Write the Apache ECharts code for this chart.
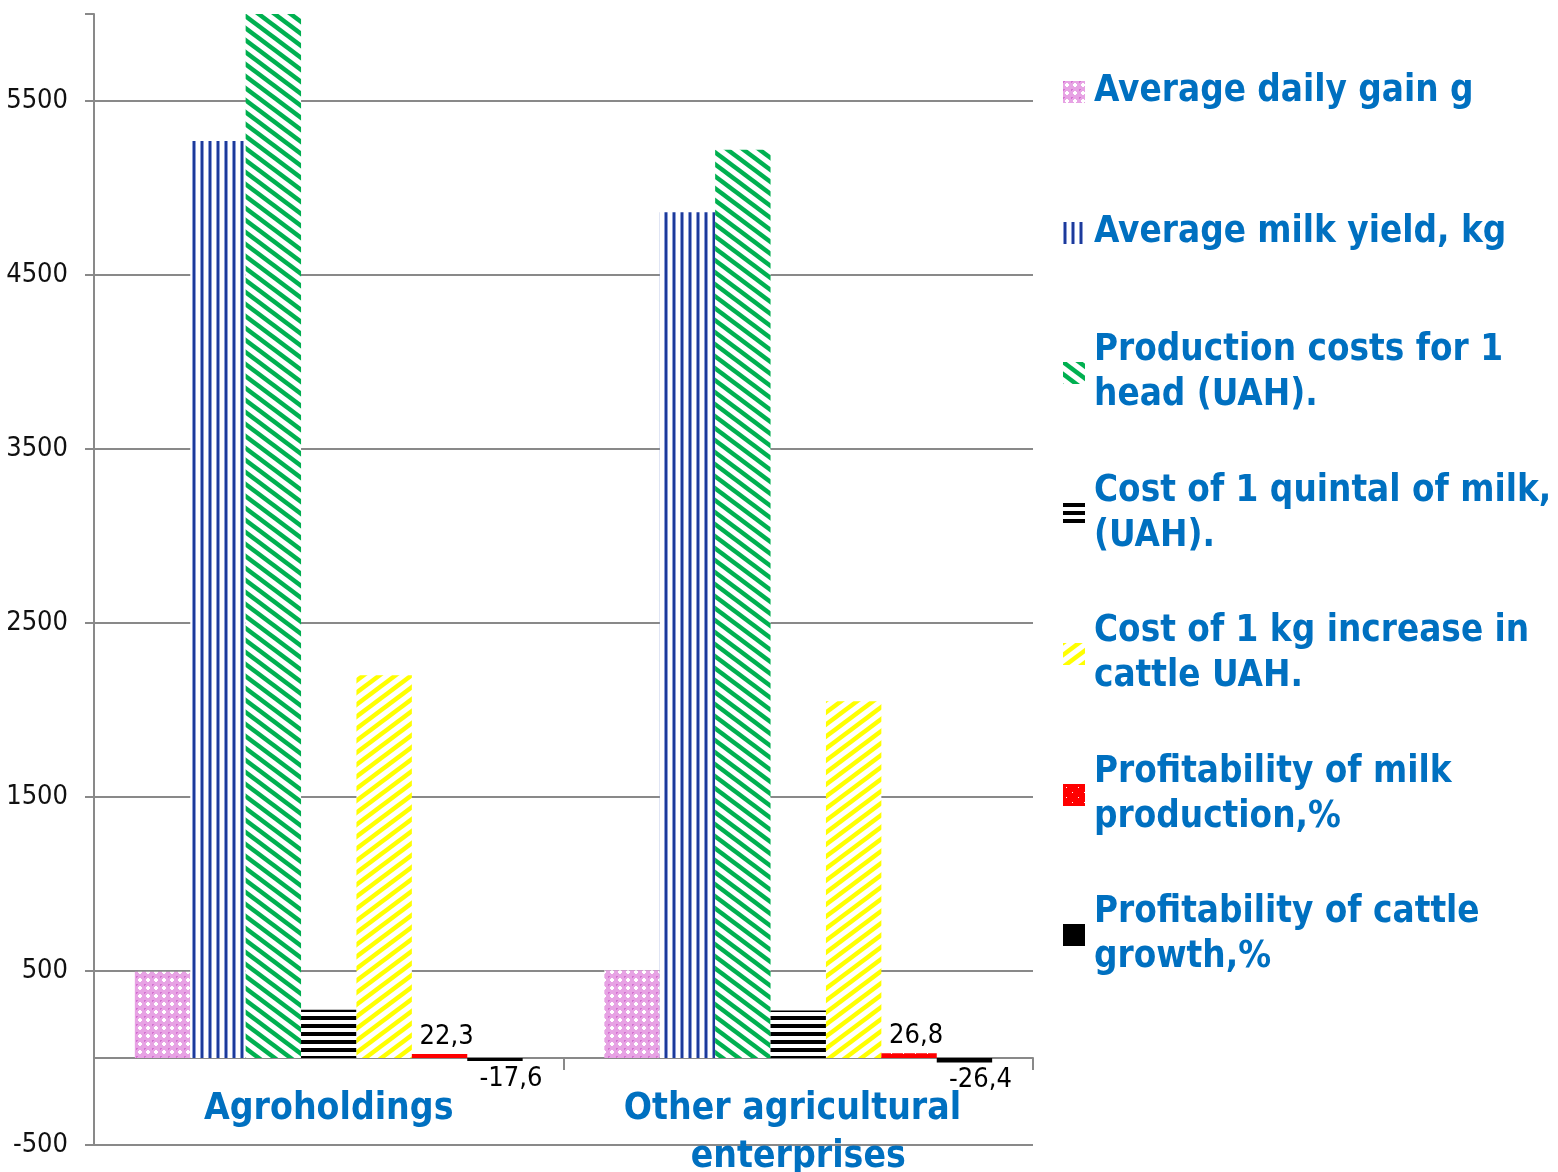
<!DOCTYPE html>
<html>
<head>
<meta charset="utf-8">
<script src="https://cdn.jsdelivr.net/npm/echarts@6/dist/echarts.min.js"></script>
<style>
html,body{margin:0;padding:0;background:#fff;}
#chart{width:1558px;height:1172px;}
</style>
</head>
<body>
<div id="chart"></div>
<script>
// ---- data ----
var categories = ['Agroholdings', 'Other agricultural enterprises'];
var seriesNames = [
  'Average daily gain g',
  'Average milk yield, kg',
  'Production costs for 1 head (UAH).',
  'Cost of 1 quintal of milk, (UAH).',
  'Cost of 1 kg increase in cattle UAH.',
  'Profitability of milk production,%',
  'Profitability of cattle growth,%'
];
var legendLabels = [
  'Average daily gain g',
  'Average milk yield, kg',
  'Production costs for 1\nhead (UAH).',
  'Cost of 1 quintal of milk,\n(UAH).',
  'Cost of 1 kg increase in\ncattle UAH.',
  'Profitability of milk\nproduction,%',
  'Profitability of cattle\ngrowth,%'
];
var dailyGain = [495, 505];
var milkYield = [5270, 4860];
var productionCosts = [6000, 5220];
var costQuintalMilk = [277, 273];
var costKgIncrease = [2200, 2050];
var profitMilk = [22.3, 26.8];
var profitCattle = [-17.6, -26.4];
var yTickLabels = [-500, 500, 1500, 2500, 3500, 4500, 5500];

// ---- patterns ----
function tile(w, h, draw) {
  var c = document.createElement('canvas');
  c.width = w; c.height = h;
  var ctx = c.getContext('2d');
  draw(ctx, w, h);
  return { image: c, repeat: 'repeat' };
}
var pinkPat = tile(8, 8, function (ctx) {
  ctx.fillStyle = '#E7A3E4'; ctx.fillRect(0, 0, 8, 8);
  ctx.fillStyle = '#D571D2'; ctx.fillRect(0, 0, 2, 1); ctx.fillRect(0, 0, 1, 2);
  ctx.fillStyle = '#ffffff'; ctx.fillRect(2, 3, 4, 2); ctx.fillRect(3, 2, 2, 4);
});
var bluePat = tile(8, 4, function (ctx) {
  ctx.fillStyle = '#ffffff'; ctx.fillRect(0, 0, 8, 4);
  ctx.fillStyle = '#8A9DD6'; ctx.fillRect(0, 0, 1, 4); ctx.fillRect(3, 0, 1, 4);
  ctx.fillStyle = '#1D3A9A'; ctx.fillRect(1, 0, 2, 4);
});
function diagTile(color, down) {
  return tile(16, 12, function (ctx, w, h) {
    ctx.fillStyle = '#ffffff'; ctx.fillRect(0, 0, w, h);
    ctx.strokeStyle = color; ctx.lineWidth = 4.5;
    for (var k = -1; k <= 1; k++) {
      ctx.beginPath();
      if (down) { ctx.moveTo(-w + k * w, -h); ctx.lineTo(2 * w + k * w, 2 * h); }
      else { ctx.moveTo(-w + k * w, 2 * h); ctx.lineTo(2 * w + k * w, -h); }
      ctx.stroke();
    }
  });
}
var greenPat = diagTile('#00B050', true);
var yellowPat = diagTile('#FFFF00', false);
var blackHPat = tile(4, 8, function (ctx) {
  ctx.fillStyle = '#ffffff'; ctx.fillRect(0, 0, 4, 8);
  ctx.fillStyle = '#000000'; ctx.fillRect(0, 0, 4, 4);
});
var redPat = tile(12, 10, function (ctx) {
  ctx.fillStyle = '#FF0000'; ctx.fillRect(0, 0, 12, 10);
  ctx.fillStyle = '#ffffff'; ctx.fillRect(3, 3, 1, 1); ctx.fillRect(9, 8, 1, 1);
});
var colors = [pinkPat, bluePat, greenPat, blackHPat, yellowPat, redPat, '#000000'];
var values = [dailyGain, milkYield, productionCosts, costQuintalMilk, costKgIncrease, profitMilk, profitCattle];

var numFont = "'DejaVu Sans Condensed', 'DejaVu Sans', sans-serif";
var boldFont = "'DejaVu Sans Condensed', 'DejaVu Sans', sans-serif";

var series = seriesNames.map(function (n, i) {
  var s = {
    name: n, type: 'bar', data: values[i],
    barGap: '0%', barCategoryGap: '17.4%',
    itemStyle: { color: colors[i] },
    label: { show: false }
  };
  if (i === 5 || i === 6) {
    s.label = {
      show: true,
      position: i === 5 ? 'top' : 'bottom',
      distance: 4,
      offset: i === 5 ? [7, 0] : [16, 0],
      fontFamily: numFont, fontSize: 27, color: '#000',
      formatter: function (p) { return String(p.value).replace('.', ','); }
    };
  }
  return s;
});

var legendCenters = [92, 233, 373, 514, 654, 795, 935];
var legends = seriesNames.map(function (n, i) {
  var twoLine = legendLabels[i].indexOf('\n') >= 0;
  return {
    show: true, orient: 'vertical', left: 1063,
    top: legendCenters[i] - (twoLine ? 67.5 : 22.5),
    padding: 0, itemWidth: 22, itemHeight: 22, icon: 'rect',
    selectedMode: false, data: [n],
    formatter: function () { return legendLabels[i]; },
    textStyle: {
      color: '#0070C0', fontWeight: 'bold', fontSize: 36.5, fontFamily: boldFont,
      lineHeight: 45, padding: [twoLine ? 45 : 0, 0, 0, 4]
    }
  };
});

var chart = echarts.init(document.getElementById('chart'), null, { renderer: 'canvas' });
chart.setOption({
  animation: false,
  backgroundColor: '#ffffff',
  grid: { left: 94, right: 525, top: 14, bottom: 27, containLabel: false, outerBoundsMode: 'none' },
  legend: legends,
  xAxis: {
    type: 'category', data: categories,
    axisLine: { show: true, onZero: true, lineStyle: { color: '#898989', width: 2 } },
    axisTick: { show: true, length: 12, lineStyle: { color: '#898989', width: 2 } },
    axisLabel: {
      interval: 0, margin: -60, color: '#0070C0', fontWeight: 'bold', fontSize: 37,
      fontFamily: boldFont, lineHeight: 48, width: 420, overflow: 'break'
    },
    splitLine: { show: false }
  },
  yAxis: [{
    type: 'value', min: -500, max: 6000, interval: 500,
    axisLine: { show: true, lineStyle: { color: '#898989', width: 2 } },
    axisTick: { show: false },
    axisLabel: {
      margin: 26, fontSize: 27, fontFamily: numFont, color: '#111',
      formatter: function (v) { return yTickLabels.indexOf(v) >= 0 ? String(v) : ''; }
    },
    splitLine: { show: true, lineStyle: { color: ['#898989', 'rgba(0,0,0,0)'], width: 2 } }
  }, {
    type: 'value', position: 'left', min: 0, max: 6500, interval: 1000,
    axisLine: { show: false },
    axisTick: { show: true, length: 9, lineStyle: { color: '#898989', width: 2 } },
    axisLabel: { show: false },
    splitLine: { show: false }
  }],
  series: series
});
</script>
</body>
</html>
